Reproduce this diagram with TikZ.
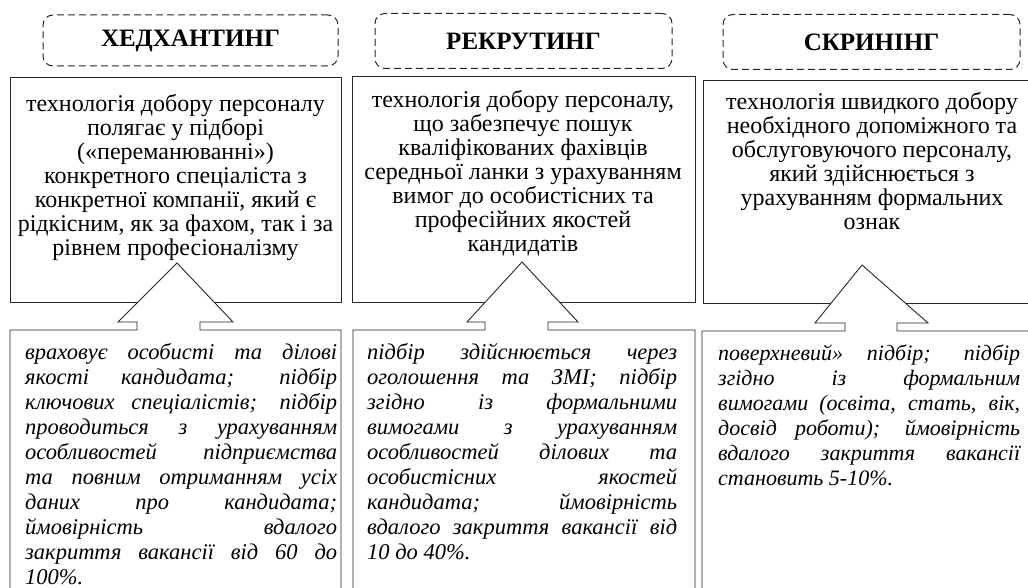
\documentclass[tikz,border=0pt]{standalone}
\usepackage{fontspec}
\setmainfont{Liberation Serif}
\newcommand{\jline}[1]{\makebox[\linewidth][s]{#1}\\}
\tikzset{
  boxline/.style={draw=black!85, line width=0.9pt},
  titlebox/.style={draw=black!85, line width=1pt, dash pattern=on 7pt off 4pt,
    rounded corners=10pt, inner sep=0pt,
    font=\bfseries\fontsize{25}{26}\selectfont},
  toptext/.style={align=center, inner sep=0pt, font=\fontsize{24}{24}\selectfont},
  bottext/.style={align=justify, inner sep=0pt, font=\itshape\fontsize{22.5}{25}\selectfont},
}
\begin{document}
\begin{tikzpicture}[x=1pt,y=-1pt]
\useasboundingbox (0,0) rectangle (1028,588);
\clip (0,0) rectangle (1028,588);

% titles
\node[titlebox, minimum width=295pt, minimum height=51pt] (t1) at (190.5,40.5) {ХЕДХАНТИНГ};
\node[titlebox, minimum width=297pt, minimum height=55pt] (t2) at (523.5,41) {РЕКРУТИНГ};
\node[titlebox, minimum width=297pt, minimum height=55pt] (t3) at (871.5,42) {СКРИНІНГ};

% top boxes
\node[boxline, anchor=north west, minimum width=331pt, minimum height=225pt] (b1) at (10,77) {};
\node[boxline, anchor=north west, minimum width=343pt, minimum height=226pt] (b2) at (352,76) {};
\node[boxline, anchor=north west, minimum width=338pt, minimum height=223pt] (b3) at (703,80) {};

\node[toptext, anchor=north] (x1) at (175.5,94) {технологія добору персоналу\\полягає у підборі\\(«переманюванні»)\\конкретного спеціаліста з\\конкретної компанії, який є\\рідкісним, як за фахом, так і за\\рівнем професіоналізму};
\node[toptext, anchor=north] (x2) at (523,90.4) {технологія добору персоналу,\\що забезпечує пошук\\кваліфікованих фахівців\\середньої ланки з урахуванням\\вимог до особистісних та\\професійних якостей\\кандидатів};
\node[toptext, anchor=north] (x3) at (872,92.4) {технологія швидкого добору\\необхідного допоміжного та\\обслуговуючого персоналу,\\який здійснюється з\\урахуванням формальних\\ознак};

% bottom boxes with block arrows
\draw[boxline, fill=white] (10,600) |- (137,330) -- (137,322) -- (118,322) -- (177,263) -- (233,322) -- (200,322) -- (200,330) -| (341,600);
\draw[boxline, fill=white] (353,600) |- (485,330) -- (485,322) -- (467,322) -- (522,262) -- (578,322) -- (548,322) -- (548,330) -| (695,600);
\draw[boxline, fill=white] (702,600) |- (845,331) -- (845,323) -- (815,323) -- (862,265) -- (928,323) -- (897,323) -- (897,331) -- (1045,331);

\node[bottext, anchor=north west, text width=312pt] (y1) at (25,343) {%
\jline{враховує особисті та ділові}
\jline{якості кандидата; підбір}
\jline{ключових спеціалістів; підбір}
\jline{проводиться з урахуванням}
\jline{особливостей підприємства}
\jline{та повним отриманням усіх}
\jline{даних про кандидата;}
\jline{ймовірність вдалого}
\jline{закриття вакансії від 60 до}
100\%.};
\node[bottext, anchor=north west, text width=310pt] (y2) at (367,343) {%
\jline{підбір здійснюється через}
\jline{оголошення та ЗМІ; підбір}
\jline{згідно із формальними}
\jline{вимогами з урахуванням}
\jline{особливостей ділових та}
\jline{особистісних якостей}
\jline{кандидата; ймовірність}
\jline{вдалого закриття вакансії від}
10 до 40\%.};
\node[bottext, font=\itshape\fontsize{22}{25}\selectfont, anchor=north west, text width=302pt] (y3) at (718,345) {%
\jline{поверхневий» підбір; підбір}
\jline{згідно із формальним}
\jline{вимогами (освіта, стать, вік,}
\jline{досвід роботи); ймовірність}
\jline{вдалого закриття вакансії}
становить 5-10\%.};
\end{tikzpicture}
\end{document}
